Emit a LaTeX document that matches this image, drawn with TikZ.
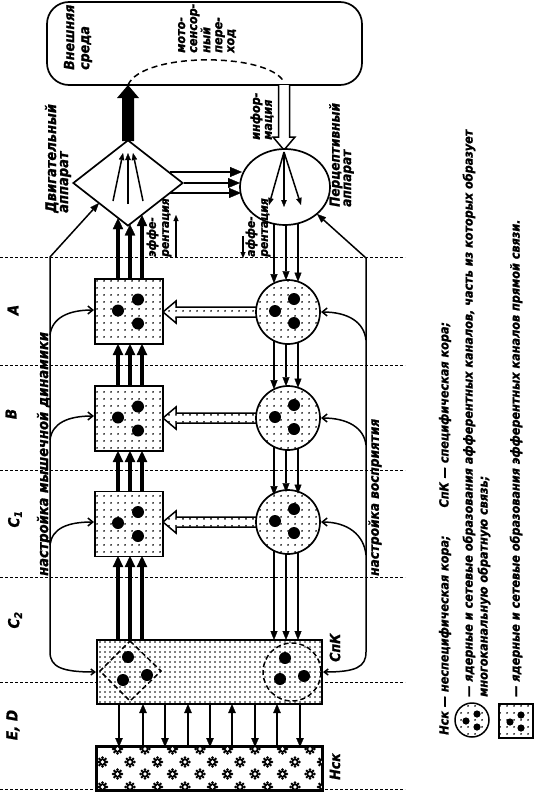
\documentclass[tikz,border=0pt]{standalone}
\usepackage{fontspec}
\newfontfamily\lab{DejaVu Sans Condensed Bold Oblique}[FakeBold=1.2]
\usetikzlibrary{arrows.meta,patterns.meta,shapes.geometric}
\begin{document}
\begin{tikzpicture}[x=1pt,y=-1pt,
  dotfill/.style={preaction={fill=white}, pattern={Dots[distance=6.5pt,radius=1pt]}},
  dotfillB/.style={preaction={fill=white}, pattern={Dots[distance=5pt,radius=0.95pt]}},
  mbox/.style={draw, line width=1.7pt, dotfill, minimum width=68pt, minimum height=65pt, inner sep=0pt},
  pcirc/.style={circle, draw, line width=1.7pt, dotfill, minimum size=64pt, inner sep=0pt},
  marr/.style={line width=3.4pt, -{Triangle[length=11pt,width=10.5pt,line width=0.3pt]}},
  parr/.style={line width=1.8pt, -{Triangle[length=9pt,width=7pt,line width=0.3pt]}},
  narr/.style={line width=1.7pt, -{Triangle[length=9pt,width=7.5pt,line width=0.3pt]}},
  harr/.style={line width=2.4pt, -{Triangle[length=12pt,width=10pt,line width=0.3pt]}},
  farr/.style={line width=1.5pt, -{Triangle[length=7pt,width=5.5pt,line width=0.3pt]}},
  tarr/.style={line width=1.5pt, -{Straight Barb[length=5pt,width=8pt]}},
  loopln/.style={line width=1.5pt},
  dotline/.style={line width=0.9pt, dash pattern=on 3pt off 2pt},
  lbl/.style={rotate=90, anchor=west, inner sep=0pt, align=left},
  fA/.style={font=\lab\fontsize{14.5}{12}\selectfont},
  fB/.style={font=\lab\fontsize{12.5}{12}\selectfont},
  fL/.style={font=\lab\fontsize{12.5}{12}\selectfont},
  lvl/.style={rotate=90, inner sep=0pt, font=\lab\fontsize{15}{15}\selectfont}
]
\fill[white] (0,0) rectangle (537,792);
\useasboundingbox (0,0) rectangle (537,792);

% level separators
\foreach \yy in {257,365,470,577,682,789} \draw[dotline] (0,\yy) -- (405,\yy);

% level labels
\node[lvl] (lA) at (13,310) {A};
\node[lvl] (lB) at (11,414) {B};
\node[lvl] (lC1) at (15,519) {C\textsubscript{1}};
\node[lvl] (lC2) at (15,620) {C\textsubscript{2}};
\node[lvl] (lED) at (13,725) {E, D};

% environment
\node[draw, line width=1.7pt, rounded corners=22pt, minimum width=315pt, minimum height=83pt, inner sep=0pt] (env) at (204.5,43.5) {};
\node[lbl, font=\lab\fontsize{14}{15}\selectfont] (tenv) at (78,70) {Внешняя\\среда};
\node[lbl, fB] (tms) at (207,53) {мото-\\сенсор-\\ный\\пере-\\ход};

% motor output arrow
\coordinate (motop) at (128,85);
\fill[black] (122,141) -- (122,98) -- (117,98) -- (motop) -- (139,98) -- (134,98) -- (134,141) -- cycle;
% motosensory transition
\draw[line width=1.5pt, dash pattern=on 6pt off 4pt] (motop) .. controls (142,52) and (268,52) .. (284,82);
% information arrow
\coordinate (inftip) at (284,150);
\filldraw[fill=white, line width=1.5pt] (278.5,85) -- (278.5,137) -- (273,137) -- (inftip) -- (295,137) -- (289.5,137) -- (289.5,85);
\node[lbl, fB] (tinf) at (262,140) {инфор-\\мация};

% loops (behind blocks)
\draw[loopln, -{Triangle[length=9pt,width=7pt,line width=0.3pt]}] (50,257) -- (99,203);
\draw[loopln, -{Straight Barb[length=4pt,width=6pt]}] (50,257) -- (50,652) .. controls (50,667) and (62,672) .. (96,672);
\draw[tarr] (50,335) .. controls (52,318) and (68,310) .. (94,310);
\draw[tarr] (50,440) .. controls (52,423) and (68,416) .. (94,416);
\draw[tarr] (50,545) .. controls (52,528) and (68,522) .. (94,522);
\draw[loopln, -{Triangle[length=9pt,width=7pt,line width=0.3pt]}] (366,258) -- (317,214);
\draw[loopln, -{Straight Barb[length=4pt,width=6pt]}] (366,258) -- (366,652) .. controls (366,667) and (356,672) .. (323,672);
\draw[tarr] (366,340) .. controls (364,322) and (348,312) .. (321,312);
\draw[tarr] (366,445) .. controls (364,428) and (348,418) .. (321,418);
\draw[tarr] (366,555) .. controls (364,535) and (348,522) .. (321,522);
\node[lbl, fA] (tmd) at (44,576) {настройка мышечной динамики};
\node[lbl, font=\lab\fontsize{13.5}{12}\selectfont] (tvo) at (375,576) {настройка восприятия};

% diamond: motor apparatus
\node[diamond, draw, line width=1.7pt, fill=white, minimum width=110pt, minimum height=86pt, inner sep=0pt] (dia) at (128,183) {};
\draw[farr] (113,201) -- (123,153);
\draw[farr] (128,204) -- (128,153);
\draw[farr] (143,201) -- (133,153);
\node[lbl, fA] (tdia) at (58,213) {Двигательный\\аппарат};

% ellipse: perceptual apparatus
\node[ellipse, draw, line width=1.7pt, fill=white, minimum width=90pt, minimum height=76pt, inner sep=0pt] (perc) at (285,187) {};
\draw[farr] (284,152) -- (269,205);
\draw[farr] (284,152) -- (284,207);
\draw[farr] (284,152) -- (301,205);
\node[lbl, font=\lab\fontsize{13.5}{11.5}\selectfont] (tper) at (341.5,207) {Перцептивный\\аппарат};

% diamond -> ellipse
\draw[harr] (170,172) -- (242,172);
\draw[harr] (dia.east) -- (240,183);
\draw[harr] (170,193) -- (241,193);

% efferentation / afferentation labels
\node[lbl, font=\lab\fontsize{12}{13}\selectfont] (teff) at (159,257) {эффе-\\рентация};
\draw[line width=1.2pt, -{Triangle[length=6pt,width=5pt,line width=0.3pt]}] (176,258) -- (176,215);
\node[lbl, font=\lab\fontsize{12}{13}\selectfont] (taff) at (258,257) {аффе-\\рентация};
\draw[line width=1.2pt, -{Triangle[length=6pt,width=5pt,line width=0.3pt]}] (243,236) -- (243,258);

% hollow dotted arrows perception -> motor
\foreach \yy in {312,418,522}
  \draw[dotfill, line width=1.5pt] (262,\yy-5) -- (176,\yy-5) -- (176,\yy-11) -- (163,\yy) -- (176,\yy+11) -- (176,\yy+5) -- (262,\yy+5) -- cycle;

% motor blocks
\node[mbox] (mA) at (129,311.5) {};
\node[mbox] (mB) at (129,418.5) {};
\node[mbox] (mC) at (129,524) {};
\foreach \n in {mA,mB,mC} {
  \fill ([shift={(-11,-1)}]\n.center) circle (6);
  \fill ([shift={(9,-12)}]\n.center) circle (6);
  \fill ([shift={(9,12)}]\n.center) circle (6);
}
% perceptual circles
\node[pcirc] (pA) at (288,312) {};
\node[pcirc] (pB) at (288,418) {};
\node[pcirc] (pC) at (288,522) {};
\foreach \n in {pA,pB,pC} {
  \fill ([shift={(-13,-1)}]\n.center) circle (6);
  \fill ([shift={(6,-13)}]\n.center) circle (6);
  \fill ([shift={(6,11)}]\n.center) circle (6);
}

% specific cortex
\node[draw, line width=1.7pt, dotfillB, minimum width=225pt, minimum height=64pt, inner sep=0pt] (spk) at (209.5,672) {};
\draw[line width=1.5pt, dash pattern=on 5pt off 3pt] (130,641) -- (161,671) -- (130,701) -- (100,671) -- cycle;
\fill (128,657) circle (6); \fill (123,680) circle (6); \fill (147,675) circle (6);
\draw[line width=1.5pt, dash pattern=on 5pt off 3pt] (292,672) circle (29);
\fill (285,658) circle (6); \fill (280,679) circle (6); \fill (304,676) circle (6);
\node[lbl, font=\lab\fontsize{14}{14}\selectfont] (tspk) at (335,662) {СпК};

% motor arrows (upwards)
\foreach \x/\e in {118/218.2,130/224.4,142/215.1} \draw[marr] (\x,279) -- (\x,\e);
\foreach \x in {118,130,142} {
  \draw[marr] (\x,386) -- (\x,344);
  \draw[marr] (\x,492) -- (\x,451);
  \draw[marr] (\x,640) -- (\x,556);
}
% perceptual arrows (downwards)
\draw[parr] (274,223.9) -- (274,283.2);
\draw[parr] (286,225) -- (286,280.1);
\draw[parr] (298,223.4) -- (298,281.6);
\foreach \dy in {0,106} {
  \draw[parr] (274,340.8+\dy) -- (274,389.2+\dy);
  \draw[parr] (286,343.9+\dy) -- (286,386.1+\dy);
  \draw[parr] (298,342.4+\dy) -- (298,387.6+\dy);
}
\draw[parr] (274,550.8) -- (274,640);
\draw[parr] (286,553.9) -- (286,640);
\draw[parr] (298,552.4) -- (298,640);

% non-specific cortex
\node[draw, line width=1.7pt, fill=white, minimum width=225pt, minimum height=43pt, inner sep=0pt] (nsk) at (209.5,768.5) {};
\begin{scope}
\clip (nsk.north west) rectangle (nsk.south east);
\foreach \yy in {749,774} \foreach \x in {117.5,145,172.5,200,227.5,255,282.5,310} {
  \fill (\x,\yy) circle (3.7);
  \foreach \a in {0,45,...,315} \fill (\x,\yy) ++(\a:4.4) circle (1.45);
  \fill[white] (\x,\yy) circle (1.8);
}
\foreach \yy in {762,787} \foreach \x in {102.5,130,157.5,185,212.5,240,267.5,295,322.5} {
  \fill (\x,\yy) circle (3.7);
  \foreach \a in {0,45,...,315} \fill (\x,\yy) ++(\a:4.4) circle (1.45);
  \fill[white] (\x,\yy) circle (1.8);
}
\end{scope}
\draw[line width=1.7pt] (nsk.north west) rectangle (nsk.south east);
\node[lbl, font=\lab\fontsize{14}{14}\selectfont] (tnsk) at (335,780) {Нск};

% arrows between specific and non-specific cortex
\foreach \x in {119,165,210,255,300} \draw[narr] (\x,704) -- (\x,747);
\foreach \x in {143,188,232,277} \draw[narr] (\x,747) -- (\x,704);

% legend
\node[lbl, fL] (leg1) at (445,735) {Нск — неспецифическая кора;\hspace{28pt}СпК — специфическая кора;};
\node[lbl, fL] (leg2) at (469,697) {— ядерные и сетевые образования афферентных каналов, часть из которых образует};
\node[lbl, fL] (leg3) at (484,697) {многоканальную обратную связь;};
\node[lbl, fL] (leg4) at (516,697) {— ядерные и сетевые образования эфферентных каналов прямой связи.};
\node[circle, draw, line width=1.5pt, dotfill, minimum size=34pt, inner sep=0pt] (legc) at (472,720) {};
\fill ([shift={(-6,1)}]legc.center) circle (3.6);
\fill ([shift={(5,-6)}]legc.center) circle (3.6);
\fill ([shift={(5,7)}]legc.center) circle (3.6);
\node[draw, line width=1.5pt, dotfill, minimum size=34pt, inner sep=0pt] (legs) at (516,721) {};
\fill ([shift={(-6,1)}]legs.center) circle (3.6);
\fill ([shift={(5,-6)}]legs.center) circle (3.6);
\fill ([shift={(5,7)}]legs.center) circle (3.6);
\end{tikzpicture}
\end{document}
